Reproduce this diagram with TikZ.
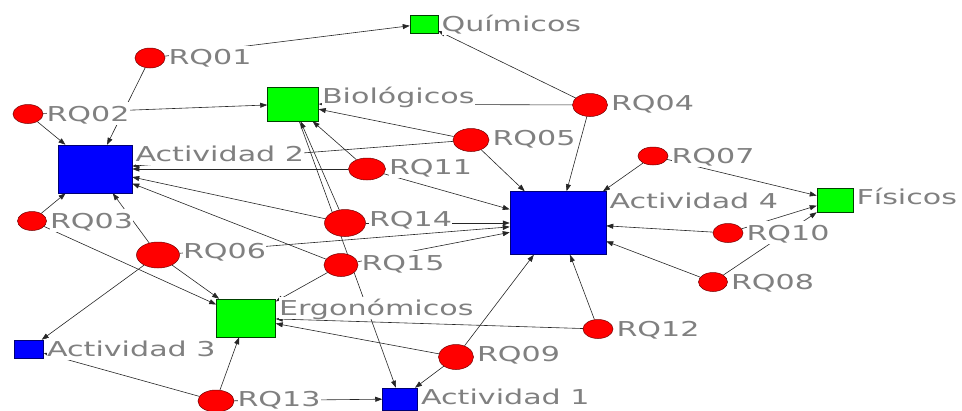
\documentclass[tikz,border=0pt]{standalone}
\usepackage{fontspec}
\setmainfont{DejaVu Sans}
\usepackage{xcolor}
\usepackage{tikz}
\usetikzlibrary{shapes.geometric,arrows.meta,backgrounds}
\definecolor{labelgray}{RGB}{128,128,128}

\begin{document}
\begin{tikzpicture}[
    x=1pt, y=-1pt,
    risk/.style 2 args={ellipse, draw=red!45!black, fill=red, line width=0.5pt, inner sep=0pt, minimum width=#1pt, minimum height=#2pt},
    activity/.style 2 args={rectangle, draw=blue!45!black, fill=blue, line width=0.5pt, inner sep=0pt, minimum width=#1pt, minimum height=#2pt},
    category/.style 2 args={rectangle, draw=green!25!black, fill=green, line width=0.5pt, inner sep=0pt, minimum width=#1pt, minimum height=#2pt},
    lbl/.style={anchor=north west, xshift=3pt, yshift=2pt, xscale=1.47, fill=white, text=labelgray, font=\fontsize{20.5}{24}\selectfont, inner sep=0pt, text height=19pt, text depth=3.5pt},
    arrow/.style={-{Triangle[length=7pt,width=5pt]}, draw=black!85, line width=0.6pt}
]
\useasboundingbox (0,0) rectangle (962,410);

% Categories
\node[category={28}{18}] (quimicos) at (424,24) {};
\node[category={51}{34}] (biologicos) at (293,104) {};
\node[category={36}{24}] (fisicos) at (835,200) {};
\node[category={59}{38}] (ergonomicos) at (246,318) {};

% Activities
\node[activity={74}{48}] (act2) at (95,169) {};
\node[activity={96}{63}] (act4) at (558,223) {};
\node[activity={29}{18}] (act3) at (29,349) {};
\node[activity={35}{22}] (act1) at (400,399) {};

% Risks
\node[risk={30}{20}] (rq01) at (150,58) {};
\node[risk={30}{19}] (rq02) at (28,114) {};
\node[risk={29}{19}] (rq03) at (32,221) {};
\node[risk={35}{23}] (rq04) at (590,105) {};
\node[risk={36}{23}] (rq05) at (471,140) {};
\node[risk={43}{26}] (rq06) at (158,255) {};
\node[risk={30}{18}] (rq07) at (653,156) {};
\node[risk={29}{19}] (rq08) at (713,282) {};
\node[risk={35}{25}] (rq09) at (456,357) {};
\node[risk={30}{19}] (rq10) at (728,233) {};
\node[risk={37}{22}] (rq11) at (367,169) {};
\node[risk={30}{19}] (rq12) at (598,329) {};
\node[risk={36}{22}] (rq13) at (216,401) {};
\node[risk={41}{27}] (rq14) at (345,223) {};
\node[risk={34}{23}] (rq15) at (341,265) {};

% Labels
\node[lbl] (quimicos-t) at (quimicos.north east) {Químicos};
\node[lbl] (biologicos-t) at (biologicos.north east) {Biológicos};
\node[lbl] (fisicos-t) at (fisicos.north east) {Físicos};
\node[lbl] (ergonomicos-t) at (ergonomicos.north east) {Ergonómicos};
\node[lbl] (act1-t) at (act1.north east) {Actividad 1};
\node[lbl] (act2-t) at (act2.north east) {Actividad 2};
\node[lbl] (act3-t) at (act3.north east) {Actividad 3};
\node[lbl] (act4-t) at (act4.north east) {Actividad 4};
\node[lbl] (rq01-t) at (rq01.east |- rq01.north) {RQ01};
\node[lbl] (rq02-t) at (rq02.east |- rq02.north) {RQ02};
\node[lbl] (rq03-t) at (rq03.east |- rq03.north) {RQ03};
\node[lbl] (rq04-t) at (rq04.east |- rq04.north) {RQ04};
\node[lbl] (rq05-t) at (rq05.east |- rq05.north) {RQ05};
\node[lbl] (rq06-t) at (rq06.east |- rq06.north) {RQ06};
\node[lbl] (rq07-t) at (rq07.east |- rq07.north) {RQ07};
\node[lbl] (rq08-t) at (rq08.east |- rq08.north) {RQ08};
\node[lbl] (rq09-t) at (rq09.east |- rq09.north) {RQ09};
\node[lbl] (rq10-t) at (rq10.east |- rq10.north) {RQ10};
\node[lbl] (rq11-t) at (rq11.east |- rq11.north) {RQ11};
\node[lbl] (rq12-t) at (rq12.east |- rq12.north) {RQ12};
\node[lbl] (rq13-t) at (rq13.east |- rq13.north) {RQ13};
\node[lbl] (rq14-t) at (rq14.east |- rq14.north) {RQ14};
\node[lbl] (rq15-t) at (rq15.east |- rq15.north) {RQ15};

% Links, behind nodes and labels
\begin{scope}[on background layer]
\draw[arrow] (rq01) -- (quimicos);  \draw[arrow] (rq01) -- (act2);
\draw[arrow] (rq02) -- (biologicos); \draw[arrow] (rq02) -- (act2);
\draw[arrow] (rq03) -- (act2);  \draw[arrow] (rq03) -- (ergonomicos);
\draw[arrow] (rq04) -- (quimicos);  \draw[arrow] (rq04) -- (biologicos);
\draw[arrow] (rq04) -- (act4);
\draw[arrow] (rq05) -- (biologicos); \draw[arrow] (rq05) -- (act2);
\draw[arrow] (rq05) -- (act4);
\draw[arrow] (rq06) -- (act2);  \draw[arrow] (rq06) -- (ergonomicos);
\draw[arrow] (rq06) -- (act3);  \draw[arrow] (rq06) -- (act4);
\draw[arrow] (rq07) -- (act4);  \draw[arrow] (rq07) -- (fisicos);
\draw[arrow] (rq08) -- (act4);  \draw[arrow] (rq08) -- (fisicos);
\draw[arrow] (rq09) -- (act4);  \draw[arrow] (rq09) -- (ergonomicos);
\draw[arrow] (rq09) -- (act1);
\draw[arrow] (rq10) -- (act4);  \draw[arrow] (rq10) -- (fisicos);
\draw[arrow] (rq11) -- (biologicos); \draw[arrow] (rq11) -- (act2);
\draw[arrow] (rq11) -- (act4);
\draw[arrow] (rq12) -- (act4);  \draw[arrow] (rq12) -- (ergonomicos);
\draw[arrow] (rq13) -- (ergonomicos); \draw[arrow] (rq13) -- (act1);
\draw[arrow] (rq13) -- (act3);
\draw[arrow] (rq14) -- (act4);  \draw[arrow] (rq14) -- (act2);
\draw[arrow] (rq14) -- (biologicos);
\draw[arrow] (rq15) -- (act2);  \draw[arrow] (rq15) -- (act4);
\draw[arrow] (rq15) -- (ergonomicos);
\draw[arrow] (biologicos) -- (act1);
\end{scope}

\end{tikzpicture}
\end{document}
